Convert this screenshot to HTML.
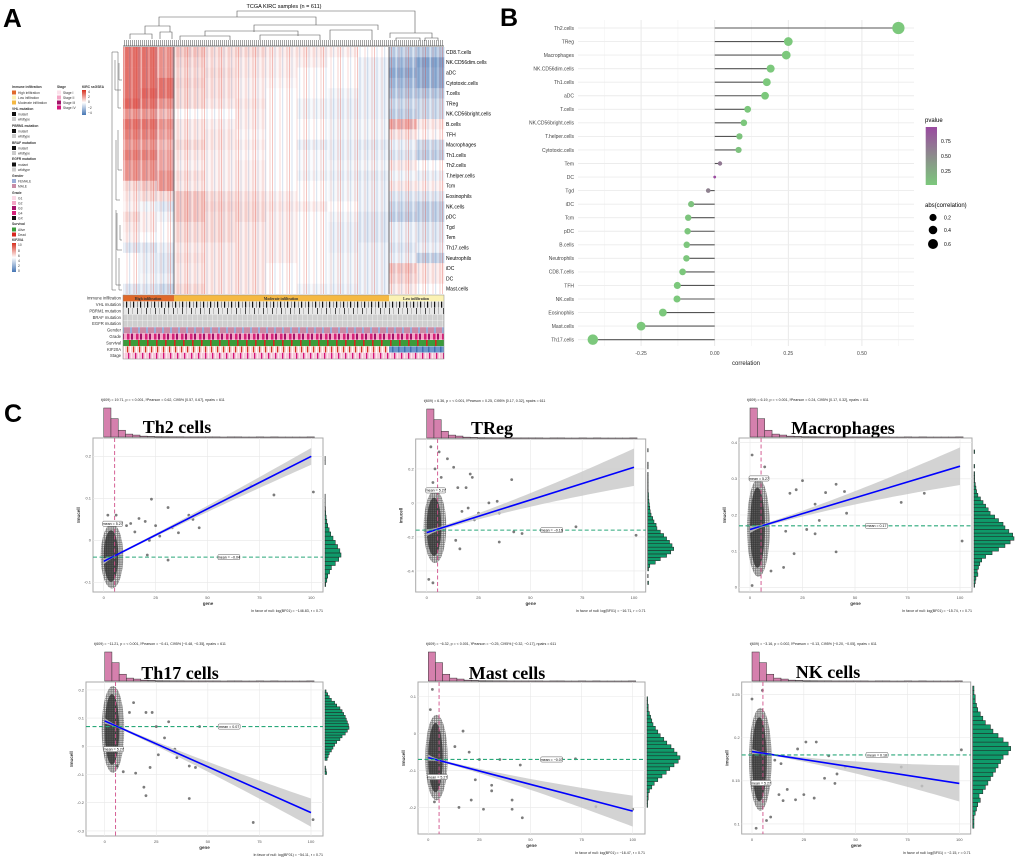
<!DOCTYPE html>
<html><head><meta charset="utf-8">
<style>
html,body{margin:0;padding:0;background:#fff;}
svg{display:block;font-family:"Liberation Sans",sans-serif;}
</style></head>
<body>
<svg id="fig" xmlns="http://www.w3.org/2000/svg" width="1020" height="862" viewBox="0 0 1020 862">
<defs>
<linearGradient id="pgrad" x1="0" y1="0" x2="0" y2="1"><stop offset="0" stop-color="#9a4aa0"/><stop offset="0.5" stop-color="#8c8c8c"/><stop offset="1" stop-color="#7cc87c"/></linearGradient>
<linearGradient id="hgrad" x1="0" y1="0" x2="0" y2="1"><stop offset="0" stop-color="#d7301f"/><stop offset="0.5" stop-color="#ffffff"/><stop offset="1" stop-color="#4575b4"/></linearGradient>
<pattern id="stripe" width="17" height="10" patternUnits="userSpaceOnUse">
<rect x="0" width="1" height="10" fill="#d7301f" opacity="0.28"/>
<rect x="2.5" width="1" height="10" fill="#4575b4" opacity="0.22"/>
<rect x="4.5" width="1.5" height="10" fill="#fff" opacity="0.45"/>
<rect x="7.5" width="1" height="10" fill="#d7301f" opacity="0.18"/>
<rect x="10" width="1.2" height="10" fill="#4575b4" opacity="0.18"/>
<rect x="12.5" width="1" height="10" fill="#fff" opacity="0.4"/>
<rect x="14.5" width="1" height="10" fill="#d7301f" opacity="0.22"/>
</pattern>
<pattern id="dots" width="2.2" height="2.2" patternUnits="userSpaceOnUse"><circle cx="1.1" cy="1.1" r="1.05" fill="#222" opacity="0.75"/></pattern>
<pattern id="pVhl" width="7" height="7" patternUnits="userSpaceOnUse"><rect width="7" height="7" fill="#e4e4e4"/><rect x="0" width="1.2" height="7" fill="#111"/><rect x="4" width="0.6" height="7" fill="#555"/></pattern>
<pattern id="pPb" width="9" height="7" patternUnits="userSpaceOnUse"><rect width="9" height="7" fill="#e8e8e8"/><rect x="2" width="0.8" height="7" fill="#222"/><rect x="6" width="0.4" height="7" fill="#777"/></pattern>
<pattern id="pGray" width="5" height="7" patternUnits="userSpaceOnUse"><rect width="5" height="7" fill="#cfcfcf"/><rect x="2" width="0.5" height="7" fill="#eee"/></pattern>
<pattern id="pGender" width="8" height="7" patternUnits="userSpaceOnUse"><rect width="8" height="7" fill="#c98ca6"/><rect x="2" width="2" height="7" fill="#9aaed8"/></pattern>
<pattern id="pGrade" width="9" height="7" patternUnits="userSpaceOnUse"><rect width="9" height="7" fill="#f4a6c6"/><rect x="1" width="2.5" height="7" fill="#d6237a"/><rect x="5" width="2" height="7" fill="#a4126a"/></pattern>
<pattern id="pSurv" width="9" height="7" patternUnits="userSpaceOnUse"><rect width="9" height="7" fill="#3b9b3b"/><rect x="3" width="1.6" height="7" fill="#d7261e"/></pattern>
<pattern id="pKif" width="6" height="7" patternUnits="userSpaceOnUse"><rect width="6" height="7" fill="#f6d6d6"/><rect x="1" width="1.2" height="7" fill="#d7301f"/><rect x="4" width="1" height="7" fill="#fff"/></pattern>
<pattern id="pKifLow" width="6" height="7" patternUnits="userSpaceOnUse"><rect width="6" height="7" fill="#6c98cc"/><rect x="2" width="1.5" height="7" fill="#3f6fb0"/></pattern>
<pattern id="pStage" width="7" height="7" patternUnits="userSpaceOnUse"><rect width="7" height="7" fill="#f7c6d9"/><rect x="2" width="1.3" height="7" fill="#d4137a"/><rect x="5" width="0.6" height="7" fill="#fff"/></pattern>
<pattern id="comb" width="2" height="6" patternUnits="userSpaceOnUse"><rect x="0" width="0.5" height="6" fill="#444"/></pattern>
</defs>

<text x="3" y="27" font-size="26" font-weight="bold">A</text>
<text x="500" y="26" font-size="25" font-weight="bold">B</text>
<text x="4" y="422" font-size="25" font-weight="bold">C</text>

<g>
<text x="284" y="8" font-size="5.5" text-anchor="middle">TCGA KIRC samples (n = 611)</text>
<g stroke="#555" stroke-width="0.6" fill="none">
<path d="M237 17V11H415V33 M159 26V17H316V25 M145 34V26H170V32 M254 32V25H378V30 M390 38V33H432V38 M205 36V31H298V36 M130 39V34H152V39 M160 39V32H172V39 M180 40V36H230V40 M260 40V35H320V40 M330 40V30H372V40 M396 41V38H420V41 M425 41V38H438V41"/>
</g>
<rect x="123" y="40" width="321" height="6" fill="url(#comb)"/>
<line x1="123" y1="46" x2="444" y2="46" stroke="#444" stroke-width="0.8"/>
<g stroke="#555" stroke-width="0.5" fill="none">
<path d="M112 180V52H118 M118 52V108H121 M115 60V90H121 M119 63V80H122 M112 180V290H116 M116 210V285H121 M118 130V170H122 M117 213V250H122 M119 258V290H122 M120 225V240H122 M116 140V200H120"/>
</g>
</g>

<g id="panelA"></g>
<rect x="123" y="47" width="321" height="247" fill="url(#stripe)"/>
<line x1="174" y1="47" x2="174" y2="294" stroke="#555" stroke-width="0.8"/>
<line x1="389" y1="47" x2="389" y2="294" stroke="#555" stroke-width="0.8"/>

<g font-size="4.2" fill="#333">
<rect x="123" y="295" width="51" height="6.3" fill="#e0692a"/><rect x="174" y="295" width="215" height="6.3" fill="#f5b942"/><rect x="389" y="295" width="55" height="6.3" fill="#fbf2b4"/>
<text x="148" y="299.8" font-size="3.8" text-anchor="middle" font-family="Liberation Serif,serif" font-weight="bold">High infiltration</text>
<text x="281" y="299.8" font-size="3.8" text-anchor="middle" font-family="Liberation Serif,serif" font-weight="bold">Moderate infiltration</text>
<text x="416" y="299.8" font-size="3.8" text-anchor="middle" font-family="Liberation Serif,serif" font-weight="bold">Low infiltration</text>
<rect x="123" y="301.6" width="321" height="6.1" fill="url(#pVhl)"/>
<rect x="123" y="308" width="321" height="6.1" fill="url(#pPb)"/>
<rect x="123" y="314.4" width="321" height="6.1" fill="url(#pGray)"/>
<rect x="123" y="320.8" width="321" height="6.1" fill="url(#pGray)"/>
<rect x="123" y="327.2" width="321" height="6.1" fill="url(#pGender)"/>
<rect x="123" y="333.6" width="321" height="6.1" fill="url(#pGrade)"/>
<rect x="123" y="340" width="321" height="6.1" fill="url(#pSurv)"/>
<rect x="123" y="346.4" width="266" height="6.1" fill="url(#pKif)"/><rect x="389" y="346.4" width="55" height="6.1" fill="url(#pKifLow)"/>
<rect x="123" y="352.8" width="321" height="6.1" fill="url(#pStage)"/>
<rect x="123" y="295" width="321" height="64" fill="none" stroke="#888" stroke-width="0.5"/>
<g text-anchor="end" font-size="4.2">
<text x="121" y="299.6">Immune infiltration</text><text x="121" y="306">VHL mutation</text><text x="121" y="312.4">PBRM1 mutation</text><text x="121" y="318.8">BRAF mutation</text><text x="121" y="325.2">EGFR mutation</text><text x="121" y="331.6">Gender</text><text x="121" y="338">Grade</text><text x="121" y="344.4">Survival</text><text x="121" y="350.8">KIF20A</text><text x="121" y="357.2">Stage</text>
</g>
</g>

<g font-size="3.3" fill="#333">
<g font-weight="bold"><text x="12" y="88">Immune infiltration</text><text x="12" y="110">VHL mutation</text><text x="12" y="127">PBRM1 mutation</text><text x="12" y="144">BRAF mutation</text><text x="12" y="160">EGFR mutation</text><text x="12" y="177">Gender</text><text x="12" y="194">Grade</text><text x="12" y="225">Survival</text><text x="12" y="241">KIF20A</text><text x="57" y="88">Stage</text><text x="82" y="88">KIRC ssGSEA</text></g>
<rect x="12" y="90.5" width="4" height="4" fill="#e0692a"/><text x="18" y="94">High infiltration</text>
<rect x="12" y="95.5" width="4" height="4" fill="#fbf2b4"/><text x="18" y="99">Low infiltration</text>
<rect x="12" y="100.5" width="4" height="4" fill="#f5b942"/><text x="18" y="104">Moderate infiltration</text>
<rect x="12" y="112" width="4" height="4" fill="#111"/><text x="18" y="115.5">mutant</text><rect x="12" y="117" width="4" height="4" fill="#ccc"/><text x="18" y="120.5">wildtype</text>
<rect x="12" y="129" width="4" height="4" fill="#111"/><text x="18" y="132.5">mutant</text><rect x="12" y="134" width="4" height="4" fill="#ccc"/><text x="18" y="137.5">wildtype</text>
<rect x="12" y="146" width="4" height="4" fill="#111"/><text x="18" y="149.5">mutant</text><rect x="12" y="151" width="4" height="4" fill="#ccc"/><text x="18" y="154.5">wildtype</text>
<rect x="12" y="162.5" width="4" height="4" fill="#111"/><text x="18" y="166">mutant</text><rect x="12" y="167.5" width="4" height="4" fill="#ccc"/><text x="18" y="171">wildtype</text>
<rect x="12" y="179" width="4" height="4" fill="#9aaed8"/><text x="18" y="182.5">FEMALE</text><rect x="12" y="184" width="4" height="4" fill="#c98ca6"/><text x="18" y="187.5">MALE</text>
<rect x="12" y="196" width="4" height="4" fill="#fbd9e6"/><text x="18" y="199.5">G1</text><rect x="12" y="201" width="4" height="4" fill="#f4a6c6"/><text x="18" y="204.5">G2</text><rect x="12" y="206" width="4" height="4" fill="#a4126a"/><text x="18" y="209.5">G3</text><rect x="12" y="211" width="4" height="4" fill="#d6237a"/><text x="18" y="214.5">G4</text><rect x="12" y="216" width="4" height="4" fill="#111"/><text x="18" y="219.5">GX</text>
<rect x="12" y="227.5" width="4" height="4" fill="#3b9b3b"/><text x="18" y="231">Alive</text><rect x="12" y="232.5" width="4" height="4" fill="#d7261e"/><text x="18" y="236">Dead</text>
<rect x="12" y="243" width="4" height="29" fill="url(#hgrad)"/><text x="18" y="246">10</text><text x="18" y="252">8</text><text x="18" y="257">6</text><text x="18" y="262">4</text><text x="18" y="267">2</text><text x="18" y="272">0</text>
<rect x="57" y="90.5" width="4" height="4" fill="#fbe0ea"/><text x="63" y="94">Stage I</text><rect x="57" y="95.5" width="4" height="4" fill="#f4a6c6"/><text x="63" y="99">Stage II</text><rect x="57" y="100.5" width="4" height="4" fill="#a4126a"/><text x="63" y="104">Stage III</text><rect x="57" y="105.5" width="4" height="4" fill="#d4137a"/><text x="63" y="109">Stage IV</text>
<rect x="82" y="90" width="4" height="25" fill="url(#hgrad)"/><text x="88" y="93">4</text><text x="88" y="98">2</text><text x="88" y="103">0</text><text x="88" y="109">−2</text><text x="88" y="114">−4</text>
</g>

<g id="panelB"></g>
<g font-size="5">
<text x="925" y="122" font-size="6">pvalue</text>
<rect x="925.7" y="127" width="11.3" height="58" fill="url(#pgrad)"/>
<text x="941" y="143">0.75</text><text x="941" y="158">0.50</text><text x="941" y="173">0.25</text>
<text x="925" y="207" font-size="6">abs(correlation)</text>
<circle cx="933" cy="217.5" r="3.6" fill="#000"/><text x="944" y="219.5">0.2</text>
<circle cx="933" cy="230" r="4.3" fill="#000"/><text x="944" y="232">0.4</text>
<circle cx="933" cy="244" r="5" fill="#000"/><text x="944" y="246">0.6</text>
</g>

<g id="panelC"></g>
</svg>

<script>
const heatRows = ["CD8.T.cells","NK.CD56dim.cells","aDC","Cytotoxic.cells","T.cells","TReg","NK.CD56bright.cells","B.cells","TFH","Macrophages","Th1.cells","Th2.cells","T.helper.cells","Tcm","Eosinophils","NK.cells","pDC","Tgd","Tem","Th17.cells","Neutrophils","iDC","DC","Mast.cells"];
const heatGroups = ["high","high","high","mod","mod","mod","mod","mod","mod","mod","low","low"];
const heatValues = [
[2,2,1.5,0.8,0.5,0.5,0.3,0.3,0.2,0,-1,-1.2],
[2,2,1.5,0.6,0.4,0.3,0.2,0.2,0,-0.3,-1.5,-2],
[2,2,1.5,0.5,0.5,0.3,0.2,0,0,-0.3,-1.8,-1.8],
[2,2,2,0.6,0.4,0.2,0.1,0,0,-0.3,-1.5,-1.8],
[2,2.2,2,0.5,0.4,0.2,0,0,-0.2,-0.3,-1.2,-1.2],
[2.2,2,1.5,0.5,0.3,0.3,0,-0.2,-0.3,-0.3,-0.8,-0.8],
[1.5,1.5,1,0,0,0.2,0,-0.2,-0.3,-0.3,-1,-0.8],
[2,2,1.5,0.3,0.2,0.2,0,0,-0.2,-0.2,1.2,0.3],
[1.8,1.8,1.3,0.3,0.3,0.1,0,0,-0.2,-0.2,0.4,0.1],
[1.5,1.5,1,0.5,0.3,0.2,0,-0.3,-0.3,-0.4,-0.3,-0.8],
[1.8,1.8,1.2,0.3,0.2,0.1,0,-0.1,-0.3,-0.3,-0.5,-1],
[1.5,1.5,1.2,0.2,0.2,0.2,0,-0.1,-0.2,-0.2,0.3,0],
[1.5,1.5,1.5,0.4,0.2,0.2,0,-0.2,-0.3,-0.4,-0.2,-0.3],
[0.5,0.8,1.5,0.3,0.2,0.2,0,0,-0.2,-0.3,0.3,0.2],
[0.3,0.5,0.5,0.8,0.5,0.4,0.2,0,-0.2,-0.3,-0.5,-0.5],
[0.2,-0.2,-0.5,0.8,0.6,0.5,0.3,0.2,0,-0.3,-0.8,-1],
[0.5,0.2,-0.2,0.8,0.5,0.5,0.2,0,-0.2,-0.5,-1,-1],
[0.3,0.2,0,0.5,0.5,0.3,0.2,0,-0.3,-0.5,-0.3,-0.5],
[0.2,0,0,0.5,0.5,0.3,0.2,0,-0.3,-0.5,-0.3,-0.5],
[-0.5,-0.5,-0.3,0.3,0.3,0.3,0.2,0,-0.3,-0.3,-0.5,-0.3],
[0,-0.3,-0.5,0.4,0.3,0.3,0.2,0,-0.2,-0.3,-0.3,-1],
[0,-0.3,-0.5,0.3,0.3,0.3,0,0,-0.2,-0.3,0.8,0.3],
[0,-0.2,-0.3,0.3,0.3,0.3,0,0,-0.2,-0.3,0.6,0.3],
[-0.5,-0.5,-0.8,0.5,0.3,0.3,0,-0.2,-0.3,-0.3,0.3,0]
];

const bCats = ["Th2.cells","TReg","Macrophages","NK.CD56dim.cells","Th1.cells","aDC","T.cells","NK.CD56bright.cells","T.helper.cells","Cytotoxic.cells","Tem","DC","Tgd","iDC","Tcm","pDC","B.cells","Neutrophils","CD8.T.cells","TFH","NK.cells","Eosinophils","Mast.cells","Th17.cells"];
const bCorr = [0.624,0.25,0.243,0.19,0.177,0.171,0.112,0.099,0.084,0.081,0.018,0.0,-0.022,-0.08,-0.09,-0.092,-0.095,-0.096,-0.109,-0.127,-0.128,-0.176,-0.25,-0.414];
const bPval = [0,0,0,0,0,0,0.005,0.01,0.04,0.05,0.65,0.99,0.58,0.05,0.03,0.02,0.02,0.02,0.007,0.002,0.002,0,0,0];
const bTicks = [-0.25,0,0.25,0.5];
const bTickLabels = ["-0.25","0.00","0.25","0.50"];

const geneHist = [300,190,70,30,20,9,6,4,3,2,2,1,1,1,1,1,0,1,1,0,0,1,0,1,0,0,0,0,1];
const geneMean = 5.27;

const th2Ticks=[-0.1,0,0.1,0.2], th2Line=[-0.05,0.2], th2Ci=[0.007,0.002,0.02], th2Mean=-0.04;
const th2Cluster=[0,8,-0.105,0.03];
const th2Points=[[23,0.098],[31,0.078],[41,0.06],[43,0.05],[46,0.03],[36,0.018],[33,0.03],[82,0.108],[101,0.115],[71,0.13],[31,-0.047],[21,-0.035],[17,0.052],[20,0.045],[13,0.04],[11,0.035],[25,0.035],[27,0.01],[22,0],[15,0.02],[2,0.06],[6,0.06]];
const th2HistStart=-0.11, th2HistStep=0.01;
const th2Hist=[3,8,12,20,28,45,60,70,65,55,45,35,25,18,12,8,5,3,2,1,1,1,0,0,0,0,0,0,0,1,1];

const tregTicks=[-0.4,-0.2,0,0.2], tregLine=[-0.175,0.21], tregCi=[0.02,0.01,0.11], tregMean=-0.16;
const tregCluster=[0,8,-0.33,0.05];
const tregPoints=[[41,0.137],[10,0.26],[13,0.21],[21,0.17],[30,0.0],[34,0.01],[35,-0.06],[46,-0.18],[72,-0.14],[101,-0.19],[35,-0.23],[42,-0.17],[16,-0.27],[2,0.33],[6,0.3],[22,0.15],[15,0.09],[19,0.09],[25,-0.06],[23,-0.1],[14,-0.22],[1,-0.45],[3,-0.47],[20,-0.03],[17,-0.05],[4,0.2],[7,0.15],[3,0.12]];
const tregHistStart=-0.48, tregHistStep=0.02;
const tregHist=[2,0,1,0,2,5,18,30,45,55,62,58,52,45,38,30,22,20,15,12,8,6,5,4,3,2,2,1,1,1,1,1,1,0,1,1,0,0,0,1];

const macTicks=[0,0.1,0.2,0.3,0.4], macLine=[0.16,0.335], macCi=[0.01,0.004,0.052], macMean=0.17;
const macCluster=[0,8,0.04,0.29];
const macPoints=[[41,0.285],[36,0.262],[45,0.265],[83,0.26],[72,0.235],[46,0.205],[31,0.23],[33,0.185],[101,0.128],[41,0.098],[21,0.093],[16,0.055],[31,0.148],[25,0.295],[22,0.27],[1,0.366],[7,0.333],[1,0.005],[10,0.045],[19,0.26],[17,0.155],[27,0.16]];
const macHistStart=0.0, macHistStep=0.01;
const macHist=[1,2,3,6,5,7,9,12,18,28,38,48,56,62,60,54,48,45,38,32,25,22,18,14,10,6,4,3,2,1,1,1,0,1,0,0,0,1];

const th17Ticks=[-0.3,-0.2,-0.1,0,0.1,0.2], th17Line=[0.09,-0.235], th17Ci=[0.01,0.004,0.05], th17Mean=0.07;
const th17Cluster=[0,8,-0.08,0.2];
const th17Points=[[72,-0.27],[101,-0.26],[41,-0.185],[20,-0.175],[19,-0.145],[15,-0.095],[22,-0.075],[26,-0.03],[35,-0.04],[34,-0.01],[41,-0.07],[44,-0.075],[46,0.07],[31,0.087],[23,0.12],[20,0.12],[29,0.03],[14,0.155],[12,0.12],[25,0.07],[9,-0.09],[6,-0.07]];
const th17HistStart=-0.1, th17HistStep=0.01;
const th17Hist=[3,2,1,0,0,4,6,8,12,15,18,22,28,32,38,42,45,44,42,40,38,35,32,28,22,18,12,8,5,2];

const mastTicks=[-0.2,-0.1,0,0.1], mastLine=[-0.065,-0.21], mastCi=[0.008,0.003,0.042], mastMean=-0.07;
const mastCluster=[0,8,-0.17,0.04];
const mastPoints=[[46,-0.228],[41,-0.205],[27,-0.205],[15,-0.2],[21,-0.18],[41,-0.18],[31,-0.14],[31,-0.155],[45,-0.085],[23,-0.125],[82,-0.198],[100,-0.205],[72,-0.068],[35,-0.07],[25,-0.07],[20,-0.05],[17,0.007],[13,-0.035],[2,0.12],[3,-0.185],[1,0.065]];
const mastHistStart=-0.2, mastHistStep=0.01;
const mastHist=[1,1,2,2,4,8,12,18,25,32,38,45,52,55,50,45,40,33,28,22,18,14,10,8,6,4,2,2,1,1];

const nkTicks=[0.1,0.15,0.2,0.25], nkLine=[0.184,0.147], nkCi=[0.003,0.001,0.021], nkMean=0.18;
const nkCluster=[0,8,0.12,0.23];
const nkPoints=[[82,0.144],[72,0.166],[101,0.186],[41,0.158],[40,0.147],[35,0.153],[26,0.195],[31,0.195],[22,0.187],[21,0.128],[25,0.134],[30,0.13],[15,0.127],[13,0.134],[17,0.14],[14,0.17],[11,0.174],[7,0.104],[2,0.095],[9,0.108],[45,0.166],[37,0.179],[0,0.245],[5,0.255]];
const nkHistStart=0.095, nkHistStep=0.005;
const nkHist=[1,1,1,2,3,4,6,5,8,10,12,14,16,18,20,22,24,28,30,28,24,20,16,14,10,8,6,4,3,2,2,1,1];

const NS='http://www.w3.org/2000/svg';
function mk(tag,attrs,parent){const e=document.createElementNS(NS,tag);for(const k in attrs)e.setAttribute(k,attrs[k]);parent.appendChild(e);return e;}
function txt(s,attrs,parent){const e=mk('text',attrs,parent);e.textContent=s;return e;}

(function(){
  const g=document.getElementById('panelA');
  const groupSpan={high:[123,174],mod:[174,389],low:[389,444]};
  const count={high:0,mod:0,low:0};
  heatGroups.forEach(k=>count[k]++);
  const rowH=247/heatRows.length;
  function col(v){
    const t=Math.max(-1,Math.min(1,v/3));
    let c;
    if(t>=0)c=[255+(215-255)*t,255+(48-255)*t,255+(39-255)*t];
    else c=[255+(69-255)*-t,255+(117-255)*-t,255+(180-255)*-t];
    return 'rgb('+c.map(Math.round).join(',')+')';
  }
  heatRows.forEach((name,i)=>{
    const y=47+i*rowH;
    const idx={high:0,mod:0,low:0};
    heatValues[i].forEach((v,j)=>{
      const gk=heatGroups[j];const sp=groupSpan[gk];const w=(sp[1]-sp[0])/count[gk];
      const x=sp[0]+idx[gk]*w;idx[gk]++;
      const r=mk('rect',{x:x.toFixed(2),y:y.toFixed(2),width:(w+0.3).toFixed(2),height:(rowH+0.3).toFixed(2),fill:col(v)},g);
      
      
    });
    const t=txt(name,{x:446,y:(y+rowH/2+1.8).toFixed(2),'font-size':'5'},g);
    
    
  });
})();

(function(){
  const g=document.getElementById('panelB');
  const xB=v=>714.7+v*294.4;
  const yB=i=>28+i*13.55;
  const left=578,right=914,top=20,bottom=346;
  [-0.375,-0.125,0.125,0.375,0.625].forEach(v=>{
    const l=mk('line',{x1:xB(v),x2:xB(v),y1:top,y2:bottom,stroke:'#f2f2f2','stroke-width':0.6},g);
    
    
  });
  bTicks.forEach((v,i)=>{
    const l=mk('line',{x1:xB(v),x2:xB(v),y1:top,y2:bottom,stroke:'#e6e6e6','stroke-width':0.9},g);
    
    
    const t=txt(bTickLabels[i],{x:xB(v),y:355,'font-size':'5','text-anchor':'middle',fill:'#444'},g);
    
    
  });
  function pcol(p){
    const a=[124,200,124],m=[140,140,140],b=[154,74,160];
    let c;
    if(p<0.5){const t=p/0.5;c=a.map((x,k)=>x+(m[k]-x)*t);}else{const t=(p-0.5)/0.5;c=m.map((x,k)=>x+(b[k]-x)*t);}
    return 'rgb('+c.map(Math.round).join(',')+')';
  }
  bCats.forEach((c,i)=>{
    const y=yB(i);
    const gl=mk('line',{x1:left,x2:right,y1:y,y2:y,stroke:'#ececec','stroke-width':0.9},g);
    
    
    const lab=txt(c,{x:574,y:y+1.8,'font-size':'5','text-anchor':'end',fill:'#444'},g);
    
    
    const st=mk('line',{x1:xB(0),x2:xB(bCorr[i]),y1:y,y2:y,stroke:'#555','stroke-width':1.1},g);
    
    
    const r=1.4+6*Math.sqrt(Math.abs(bCorr[i]));
    const d=mk('circle',{cx:xB(bCorr[i]),cy:y,r:r.toFixed(2),fill:pcol(bPval[i])},g);
    
    
  });
  const xt=txt('correlation',{x:746,y:365,'font-size':'6','text-anchor':'middle',fill:'#222'},g);
  
  
})();

const plots=[
 {title:'Th2 cells',tx:177,ty:433,box:[93,438,323,592],x0:103.7,x100:311.3,dom:[-0.123,0.2436],ticks:th2Ticks,line:th2Line,ci:th2Ci,mean:th2Mean,cl:th2Cluster,pts:th2Points,hs:th2HistStart,hst:th2HistStep,hist:th2Hist,hw:16,
  stat:'t(609) = 19.71, p = < 0.001, r̂Pearson = 0.62, CI95% [0.57, 0.67], npairs = 611',bf:'In favor of null: log(BF01) = −146.83, r = 0.71',lbl:'mean = −0.04'},
 {title:'TReg',tx:492,ty:434,box:[415.7,439,645.7,592],x0:426.7,x100:634,dom:[-0.524,0.376],ticks:tregTicks,line:tregLine,ci:tregCi,mean:tregMean,cl:tregCluster,pts:tregPoints,hs:tregHistStart,hst:tregHistStep,hist:tregHist,hw:26,
  stat:'t(609) = 6.36, p = < 0.001, r̂Pearson = 0.25, CI95% [0.17, 0.32], npairs = 611',bf:'In favor of null: log(BF01) = −16.71, r = 0.71',lbl:'mean = −0.16'},
 {title:'Macrophages',tx:843,ty:434,box:[739,438,972,592],x0:750,x100:960,dom:[-0.013,0.413],ticks:macTicks,line:macLine,ci:macCi,mean:macMean,cl:macCluster,pts:macPoints,hs:macHistStart,hst:macHistStep,hist:macHist,hw:40,
  stat:'t(609) = 6.19, p = < 0.001, r̂Pearson = 0.24, CI95% [0.17, 0.32], npairs = 611',bf:'In favor of null: log(BF01) = −15.74, r = 0.71',lbl:'mean = 0.17'},
 {title:'Th17 cells',tx:180,ty:679,box:[86,682,323,836],x0:104.7,x100:311,dom:[-0.318,0.228],ticks:th17Ticks,line:th17Line,ci:th17Ci,mean:th17Mean,cl:th17Cluster,pts:th17Points,hs:th17HistStart,hst:th17HistStep,hist:th17Hist,hw:24,
  stat:'t(609) = −11.21, p = < 0.001, r̂Pearson = −0.41, CI95% [−0.48, −0.35], npairs = 611',bf:'In favor of null: log(BF01) = −54.11, r = 0.71',lbl:'mean = 0.07'},
 {title:'Mast cells',tx:507,ty:679,box:[418,682,645,834],x0:428.3,x100:632.7,dom:[-0.272,0.14],ticks:mastTicks,line:mastLine,ci:mastCi,mean:mastMean,cl:mastCluster,pts:mastPoints,hs:mastHistStart,hst:mastHistStep,hist:mastHist,hw:33,
  stat:'t(609) = −6.32, p = < 0.001, r̂Pearson = −0.25, CI95% [−0.32, −0.17], npairs = 611',bf:'In favor of null: log(BF01) = −16.47, r = 0.71',lbl:'mean = −0.07'},
 {title:'NK cells',tx:828,ty:678,box:[741.7,682,970.7,834],x0:752,x100:959.3,dom:[0.0883,0.2647],ticks:nkTicks,line:nkLine,ci:nkCi,mean:nkMean,cl:nkCluster,pts:nkPoints,hs:nkHistStart,hst:nkHistStep,hist:nkHist,hw:38,
  stat:'t(609) = −3.16, p = 0.002, r̂Pearson = −0.13, CI95% [−0.20, −0.05], npairs = 611',bf:'In favor of null: log(BF01) = −2.15, r = 0.71',lbl:'mean = 0.18'}
];
(function(){
  const root=document.getElementById('panelC');
  plots.forEach(p=>{
    const g=mk('g',{},root);
    
    
    const [bx0,by0,bx1,by1]=p.box;
    const X=v=>p.x0+v/100*(p.x100-p.x0);
    const Y=v=>by1-(v-p.dom[0])/(p.dom[1]-p.dom[0])*(by1-by0);
    const st=txt(p.stat,{x:bx0+8,y:by0-37,'font-size':'3.6',fill:'#222'},g);
    
    
    const hmax=Math.max(...geneHist);
    const bw=(X(3.5)-X(0));
    geneHist.forEach((c,i)=>{
      const h=c/hmax*29;
      const r=mk('rect',{x:X(i*3.5),y:by0-1-h,width:bw,height:Math.max(h,0.6),fill:'#d580ad',stroke:'#333','stroke-width':0.5},g);
      
      
    });
    const tt=txt(p.title,{x:p.tx,y:p.ty,'font-size':'18','font-weight':'bold','font-family':'"Liberation Serif",serif','text-anchor':'middle',fill:'#000'},g);
    
    
    const bg=mk('rect',{x:bx0,y:by0,width:bx1-bx0,height:by1-by0,fill:'#fff',stroke:'#aaa','stroke-width':1},g);
    
    
    [0,25,50,75,100].forEach(v=>{
      const l=mk('line',{x1:X(v),x2:X(v),y1:by0,y2:by1,stroke:'#e8e8e8','stroke-width':0.6},g);
      
      
      const t=txt(String(v),{x:X(v),y:by1+7,'font-size':'4','text-anchor':'middle',fill:'#555'},g);
      
      
    });
    p.ticks.forEach(v=>{
      const l=mk('line',{x1:bx0,x2:bx1,y1:Y(v),y2:Y(v),stroke:'#e8e8e8','stroke-width':0.6},g);
      
      
      const t=txt(String(v),{x:bx0-2,y:Y(v)+1.4,'font-size':'4','text-anchor':'end',fill:'#555'},g);
      
      
    });
    const xl=txt('gene',{x:(bx0+bx1)/2,y:by1+13,'font-size':'4.5','font-weight':'bold','text-anchor':'middle',fill:'#333'},g);
    
    
    const yl=txt('Imucell',{x:0,y:0,'font-size':'4.5','font-weight':'bold','text-anchor':'middle',fill:'#333',transform:'translate('+(bx0-13)+','+((by0+by1)/2)+') rotate(-90)'},g);
    
    
    const cl=p.cl;
    const cx=(X(cl[0])+X(cl[1]))/2, cy=(Y(cl[2])+Y(cl[3]))/2;
    const rx=(X(cl[1])-X(cl[0]))/2+1.5, ry=(Y(cl[2])-Y(cl[3]))/2+2;
    const halo=mk('ellipse',{cx:cx,cy:cy,rx:rx+1.5,ry:ry+2,fill:'url(#dots)',opacity:0.8},g);
    
    
    const core=mk('ellipse',{cx:cx-1,cy:cy,rx:rx*0.75,ry:ry*0.85,fill:'#222',opacity:0.7},g);
    
    
    p.pts.forEach(pt=>{
      const c=mk('circle',{cx:X(pt[0]),cy:Y(pt[1]),r:1.4,fill:'#444',opacity:0.7},g);
      
      
    });
    const fit=v=>p.line[0]+(p.line[1]-p.line[0])*v/100;
    const half=v=>{const d=Math.abs(v-geneMean);const D=v<geneMean?geneMean:100-geneMean;const end=v<geneMean?p.ci[0]:p.ci[2];return p.ci[1]+(end-p.ci[1])*Math.pow(d/D,1.6);};
    let up=[],dn=[];
    for(let v=0;v<=100;v+=2.5){up.push(X(v)+','+Y(fit(v)+half(v)));dn.unshift(X(v)+','+Y(fit(v)-half(v)));}
    const band=mk('polygon',{points:up.concat(dn).join(' '),fill:'#c8c8c8',opacity:0.8},g);
    
    
    const ln=mk('line',{x1:X(0),y1:Y(p.line[0]),x2:X(100),y2:Y(p.line[1]),stroke:'#0000ff','stroke-width':1.6},g);
    
    
    const vm=mk('line',{x1:X(geneMean),x2:X(geneMean),y1:by0,y2:by1,stroke:'#d0508a','stroke-width':0.9,'stroke-dasharray':'4,2.5'},g);
    
    
    const hm=mk('line',{x1:bx0,x2:bx1,y1:Y(p.mean),y2:Y(p.mean),stroke:'#2aa87a','stroke-width':1.1,'stroke-dasharray':'4,2.5'},g);
    
    
    const lb=mk('rect',{x:X(55),y:Y(p.mean)-2.6,width:22,height:5.2,rx:1.2,fill:'#fff',stroke:'#333','stroke-width':0.4},g);
    
    
    const lt=txt(p.lbl,{x:X(55)+11,y:Y(p.mean)+1.3,'font-size':'3.6','text-anchor':'middle'},g);
    
    
    const rm=Math.max(...p.hist);
    p.hist.forEach((c,i)=>{
      if(!c)return;
      const ya=Y(p.hs+(i+1)*p.hst),yb=Y(p.hs+i*p.hst);
      const r=mk('rect',{x:bx1+2,y:ya,width:c/rm*p.hw,height:yb-ya,fill:'#0f9a6a',stroke:'#222','stroke-width':0.5},g);
      
      
    });
    const bf=txt(p.bf,{x:bx1,y:by1+20,'font-size':'3.6','text-anchor':'end',fill:'#222'},g);
    
    
  });
  plots.forEach(p=>{
    const [bx0,by0,bx1,by1]=p.box;
    const Y=v=>by1-(v-p.dom[0])/(p.dom[1]-p.dom[0])*(by1-by0);
    const X=v=>p.x0+v/100*(p.x100-p.x0);
    const yy=Y(p.cl[3])+ (p.line[1]<p.line[0]? (Y(p.cl[2])-Y(p.cl[3]))*0.75 : -4);
    const r=mk('rect',{x:X(0)-1,y:yy-2.6,width:20,height:5.2,rx:1.2,fill:'#fff',stroke:'#333','stroke-width':0.4},root);
    
    
    const t=txt('mean = 5.27',{x:X(0)+9,y:yy+1.3,'font-size':'3.6','text-anchor':'middle'},root);
    
    
  });
})();
</script>
</body></html>
